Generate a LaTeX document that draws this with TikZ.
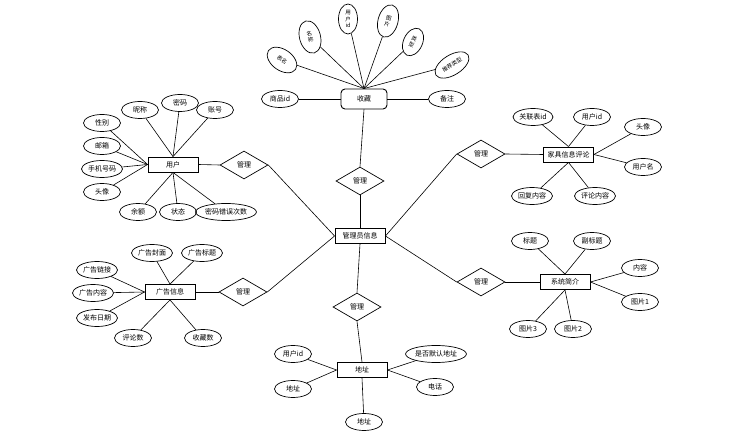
\documentclass[tikz,border=0pt]{standalone}
\usepackage{fontspec}
\newfontfamily\cjk{Noto Sans CJK SC}
\usetikzlibrary{shapes.geometric}

\tikzset{
  entity/.style={draw,line width=0.9pt,minimum width=50pt,minimum height=15pt,
                 inner sep=1pt,font=\cjk\fontsize{7}{8}\selectfont},
  attr/.style={draw,ellipse,line width=0.7pt,minimum width=37pt,minimum height=17pt,
               inner xsep=0.5pt,inner ysep=0pt,font=\cjk\fontsize{7}{8}\selectfont},
  relation/.style={draw,diamond,aspect=1.7,line width=0.7pt,minimum width=48pt,
                   minimum height=28pt,inner sep=0pt,font=\cjk\fontsize{7}{8}\selectfont},
  link/.style={line width=0.6pt}
}

\begin{document}
\begin{tikzpicture}[x=1pt,y=-1pt]
\useasboundingbox (0,0) rectangle (737,443);

% Central entity and the six relations round it
\node[entity] (admin) at (360,236) {管理员信息};
\node[relation] (relFav) at (360,181) {管理};
\node[relation] (relAddr) at (357,307) {管理};
\node[relation] (relUser) at (244,165) {管理};
\node[relation] (relAd) at (243,292) {管理};
\node[relation] (relReview) at (481,154) {管理};
\node[relation] (relIntro) at (481,282) {管理};

\draw[link] (relFav.south) -- (admin.north);
\draw[link] (relAddr.north) -- (admin.south);
\draw[link] (relUser.east) -- (admin.west);
\draw[link] (relAd.east) -- (admin.west);
\draw[link] (relReview.west) -- (admin.east);
\draw[link] (relIntro.west) -- (admin.east);

% Collection
\node[entity,rounded corners=4pt,minimum width=46pt,minimum height=20pt] (fav) at (364,99) {收藏};
\draw[link] (relFav.north) -- (fav.south);
\node[attr] (favGoods) at (280,99) {商品id};
\node[attr] (favNote) at (447,99) {备注};
\draw[link] (favGoods) -- (fav.west);
\draw[link] (favNote) -- (fav.east);
\foreach \px/\py/\ang/\w/\h/\nm/\txt in {
  282/60/-35/33/21/favTable/表名, 310/37/15/21/33/favName/名\\称,
  348/19/0/19/30/favUser/用\\户\\id, 388/21/-15/20/33/favPic/图\\片,
  413/42/-25/19/29/favType/类\\型, 452/65/32/38/20/favRec/推荐类型} {
  \node[attr,rotate=\ang,minimum width=\w pt,minimum height=\h pt,align=center,
        font=\cjk\fontsize{5.5}{6.5}\selectfont] (\nm) at (\px,\py) {\txt};
  \draw[link] (\nm) -- (fav.north);
}

% User
\node[entity] (user) at (173,164.5) {用户};
\draw[link] (user.east) -- (relUser.west);
\foreach \px/\py/\nm/\txt/\anc in {
  102/123/userSex/性别/west, 102/146/userMail/邮箱/west,
  102/169/userPhone/手机号码/west, 102/192/userHead/头像/west,
  140/110/userNick/昵称/north, 180/103/userPwd/密码/north,
  215/110/userAcc/账号/north, 138/212/userMoney/余额/south,
  178/212/userState/状态/south, 226/212/userErr/密码错误次数/south} {
  \node[attr] (\nm) at (\px,\py) {\txt};
  \draw[link] (\nm) -- (user.\anc);
}

% Advert
\node[entity] (ad) at (170,292) {广告信息};
\draw[link] (ad.east) -- (relAd.west);
\foreach \px/\py/\nm/\txt/\anc in {
  152/253/adCover/广告封面/north, 202/253/adTitle/广告标题/north,
  97/270/adLink/广告链接/west, 93/293/adText/广告内容/west,
  97/318/adDate/发布日期/west, 133/338/adCmt/评论数/south,
  203/338/adFav/收藏数/south} {
  \node[attr] (\nm) at (\px,\py) {\txt};
  \draw[link] (\nm) -- (ad.\anc);
}

% Review
\node[entity] (review) at (568.5,154.5) {家具信息评论};
\draw[link] (review.west) -- (relReview.east);
\foreach \px/\py/\nm/\txt/\anc in {
  533/117/revRel/关联表id/north, 592/117/revUid/用户id/north,
  643/127/revHead/头像/east, 643/167/revName/用户名/east,
  532/196/revReply/回复内容/south, 595/196/revText/评论内容/south} {
  \node[attr] (\nm) at (\px,\py) {\txt};
  \draw[link] (\nm) -- (review.\anc);
}

% Intro
\node[entity] (intro) at (565,282) {系统简介};
\draw[link] (intro.west) -- (relIntro.east);
\foreach \px/\py/\nm/\txt/\anc in {
  530/241/introTitle/标题/north, 592/241/introSub/副标题/north,
  640/268/introText/内容/east, 640/302/introPicA/图片1/east,
  528/329/introPicC/图片3/south, 573/329/introPicB/图片2/south} {
  \node[attr] (\nm) at (\px,\py) {\txt};
  \draw[link] (\nm) -- (intro.\anc);
}

% Address
\node[entity] (addr) at (362,370) {地址};
\draw[link] (relAddr.south) -- (addr.north);
\foreach \px/\py/\nm/\txt/\anc in {
  293/354/addrUid/用户id/west, 293/389/addrText/地址/west,
  364/422/addrBelow/地址/south, 436/354/addrDef/是否默认地址/east,
  435/387/addrTel/电话/east} {
  \node[attr] (\nm) at (\px,\py) {\txt};
  \draw[link] (\nm) -- (addr.\anc);
}
\end{tikzpicture}
\end{document}
